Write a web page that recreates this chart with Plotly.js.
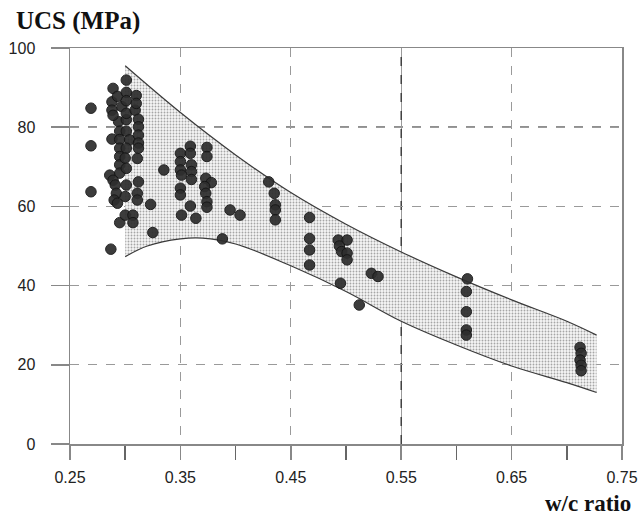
<!DOCTYPE html>
<html>
<head>
<meta charset="utf-8">
<script src="https://cdn.plot.ly/plotly-3.0.1.min.js"></script>
<style>html,body{margin:0;padding:0;background:#fff;}#chart{width:644px;height:519px;}</style>
</head>
<body>
<div id="chart"></div>
<script>
// Envelope band (w/c ratio vs UCS)
const bandWc    = [0.30, 0.35, 0.40, 0.45, 0.50, 0.55, 0.60, 0.65, 0.70, 0.727];
const bandUpper = [95.5, 83.7, 73.0, 63.5, 55.5, 48.5, 42.2, 36.4, 31.0, 27.5];
const lowerWc   = [0.30, 0.32, 0.35, 0.37, 0.40, 0.45, 0.50, 0.55, 0.60, 0.65, 0.70, 0.727];
const bandLower = [47.3, 50.0, 51.8, 52.0, 50.5, 45.0, 38.5, 31.0, 25.0, 19.7, 15.5, 13.0];

// Measured points
const wc = [
  0.269, 0.269, 0.269,
  0.289, 0.288, 0.288, 0.297, 0.294, 0.295, 0.288, 0.295, 0.295, 0.295, 0.295, 0.295, 0.286, 0.289, 0.291, 0.292, 0.290, 0.293, 0.295, 0.287, 0.289, 0.293,
  0.301, 0.301, 0.301, 0.301, 0.301, 0.304, 0.301, 0.300, 0.301, 0.301, 0.300, 0.301, 0.300,
  0.310, 0.309, 0.312, 0.312, 0.312, 0.312, 0.312, 0.311, 0.312, 0.311, 0.311, 0.307, 0.307, 0.310,
  0.323, 0.325, 0.335,
  0.350, 0.350, 0.350, 0.351, 0.350, 0.350, 0.351, 0.359, 0.359, 0.360, 0.360, 0.360, 0.359, 0.364,
  0.374, 0.374, 0.373, 0.378, 0.372, 0.373, 0.374, 0.374,
  0.395, 0.404, 0.388,
  0.430, 0.435, 0.436, 0.436, 0.436,
  0.467, 0.467, 0.467, 0.467,
  0.493, 0.501, 0.494, 0.496, 0.501, 0.501, 0.495,
  0.523, 0.529, 0.512,
  0.610, 0.609, 0.609, 0.609, 0.609,
  0.712, 0.713, 0.712, 0.713, 0.713
];
const ucs = [
  84.8, 75.3, 63.7,
  89.8, 86.4, 84.3, 85.2, 81.4, 79.0, 77.0, 76.9, 74.7, 72.6, 70.5, 68.4, 67.9, 66.6, 65.4, 63.3, 61.6, 60.8, 55.9, 49.2, 83.0, 87.8,
  91.9, 88.8, 86.7, 81.9, 79.0, 76.8, 74.7, 72.2, 69.6, 65.4, 57.8, 83.5, 62.5,
  88.0, 84.3, 82.0, 80.1, 78.0, 76.0, 74.7, 72.1, 66.2, 63.3, 61.6, 57.8, 55.9, 86.0,
  60.5, 53.4, 69.2,
  73.4, 71.3, 69.2, 67.9, 64.6, 62.9, 57.8, 75.2, 73.4, 70.5, 68.8, 66.8, 60.1, 57.0,
  74.9, 72.6, 67.1, 66.0, 65.0, 63.3, 61.2, 59.8,
  59.1, 57.8, 51.8,
  66.2, 63.3, 60.4, 59.1, 56.6,
  57.2, 51.9, 49.0, 45.2,
  51.5, 51.5, 50.0, 48.6, 48.2, 46.5, 40.6,
  43.1, 42.3, 35.1,
  41.7, 38.5, 33.4, 28.8, 27.5,
  24.4, 22.9, 21.2, 19.9, 18.5
];

const xTickVals = [0.25, 0.35, 0.45, 0.55, 0.65, 0.75];
const xTickText = ['0.25', '0.35', '0.45', '0.55', '0.65', '0.75'];
const yTickVals = [0, 20, 40, 60, 80, 100];
const yTickText = ['0', '20', '40', '60', '80', '100'];

const traces = [
  {x: lowerWc, y: bandLower, mode: 'lines', line: {color: '#3a3a3a', width: 1.2, shape: 'spline'}, hoverinfo: 'skip', showlegend: false},
  {x: bandWc, y: bandUpper, mode: 'lines', line: {color: '#3a3a3a', width: 1.2, shape: 'spline'},
   fill: 'tonexty', fillcolor: '#ececec',
   fillpattern: {shape: '.', size: 3, solidity: 0.3, fgcolor: '#a6a6a6', bgcolor: '#f6f6f6'},
   hoverinfo: 'skip', showlegend: false},
  {x: wc, y: ucs, mode: 'markers', marker: {size: 10.5, color: '#2e2e2e', opacity: 0.93, line: {color: '#151515', width: 1}}, showlegend: false}
];

const axisFont = {family: 'Liberation Sans, Arial, sans-serif', size: 16, color: '#222'};
const layout = {
  width: 644, height: 519,
  margin: {l: 70, r: 22, t: 48, b: 75},
  paper_bgcolor: '#fff', plot_bgcolor: '#fff',
  showlegend: false,
  xaxis: {
    range: [0.25, 0.75], tickvals: xTickVals, ticktext: xTickText,
    ticks: 'outside', ticklen: 14, tickwidth: 1.5, tickcolor: '#888',
    minor: {dtick: 0.05, tick0: 0.25, ticks: 'outside', ticklen: 14, tickwidth: 1.5, tickcolor: '#666', showgrid: false},
    showline: true, mirror: true, linecolor: '#888', linewidth: 1.5,
    showgrid: true, gridcolor: '#9a9a9a', griddash: 'dash', gridwidth: 1.3,
    zeroline: false, tickfont: axisFont, ticklabelstandoff: 4
  },
  yaxis: {
    range: [0, 100], tickvals: yTickVals, ticktext: yTickText,
    ticks: 'outside', ticklen: 18, tickwidth: 1.5, tickcolor: '#888',
    showline: true, mirror: true, linecolor: '#888', linewidth: 1.5,
    showgrid: true, gridcolor: '#9a9a9a', griddash: 'dash', gridwidth: 1.3,
    zeroline: false, tickfont: axisFont, ticklabelstandoff: 12
  },
  shapes: [
    {type: 'line', xref: 'paper', yref: 'y', x0: 0, x1: 1, y0: 80, y1: 80, layer: 'below', line: {color: '#222', width: 1.3, dash: 'dash'}},
    {type: 'line', xref: 'x', yref: 'paper', x0: 0.55, x1: 0.55, y0: 0, y1: 1, layer: 'below', line: {color: '#222', width: 1.3, dash: 'dash'}}
  ],
  annotations: [
    {text: 'UCS (MPa)', xref: 'paper', yref: 'paper', x: -0.1014, y: 1.068, xanchor: 'left', yanchor: 'middle', showarrow: false,
     font: {family: 'Liberation Serif, Times New Roman, serif', size: 25, color: '#111', weight: 'bold'}},
    {text: 'w/c ratio', xref: 'paper', yref: 'paper', x: 1.02, y: -0.15, xanchor: 'right', yanchor: 'middle', showarrow: false,
     font: {family: 'Liberation Serif, Times New Roman, serif', size: 23, color: '#111', weight: 'bold'}}
  ]
};

Plotly.newPlot('chart', traces, layout, {displayModeBar: false, staticPlot: true});
</script>
</body>
</html>
